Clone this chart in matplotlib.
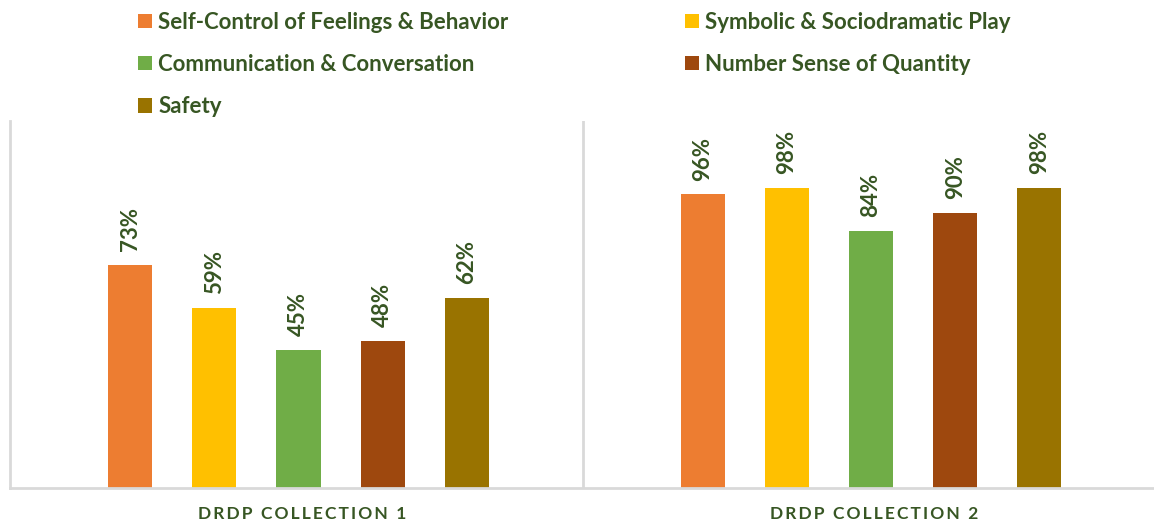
import numpy as np
import matplotlib.pyplot as plt
from matplotlib.patches import Patch

# données
groups = ["DRDP COLLECTION 1", "DRDP COLLECTION 2"]
series = ["Self-Control of Feelings & Behavior", "Symbolic & Sociodramatic Play",
          "Communication & Conversation", "Number Sense of Quantity", "Safety"]
values = [
    [0.73, 0.96],
    [0.59, 0.98],
    [0.45, 0.84],
    [0.48, 0.90],
    [0.62, 0.98],
]
colors = ["#ED7D31", "#FFC000", "#70AD47", "#9E480E", "#997300"]
txt = "#375623"
grid_c = "#D9D9D9"

plt.rcParams['font.family'] = ['Lato', 'DejaVu Sans']

fig = plt.figure(figsize=(11.54, 5.27), dpi=100)
ax = fig.add_axes([10/1154, 39/527, 1145/1154, 367/527])

x = np.arange(len(groups))
step = 0.147
width = 0.077
for k, (name, vals, col) in enumerate(zip(series, values, colors)):
    pos = x + (k - 2) * step + 0.004
    bars = ax.bar(pos, vals, width, color=col, label=name)
    for b, v in zip(bars, vals):
        ax.annotate(f"{v:.0%}", (b.get_x() + b.get_width()/2, v),
                    xytext=(0, 10), textcoords="offset points",
                    rotation=90, ha="center", va="bottom",
                    fontsize=16, fontweight="bold", color=txt)

ax.set_xlim(-0.5, 1.5)
ax.set_ylim(0, 1.2)
ax.set_yticks([])
ax.set_xticks(x + 0.01)
spaced = ["\u2009".join(g).replace("\u2009 \u2009", "\u2009\u2009\u2009\u2009") for g in groups]
ax.set_xticklabels(spaced, fontsize=12.5, fontweight="bold", color=txt)
ax.tick_params(axis="x", length=0, pad=13)
for s in ["top", "right"]:
    ax.spines[s].set_visible(False)
for s in ["left", "bottom"]:
    ax.spines[s].set_color(grid_c)
    ax.spines[s].set_linewidth(2)
ax.axvline(0.5, color=grid_c, lw=2)

# légende sur deux colonnes
handles = [Patch(facecolor=c) for c in colors]
leg_kw = dict(frameon=False, labelcolor=txt, handlelength=0.62,
              handleheight=0.62, handletextpad=0.3, labelspacing=0.95,
              borderaxespad=0, borderpad=0, prop={'weight': 'bold', 'size': 16})
l1 = fig.legend([handles[i] for i in (0, 2, 4)], [series[i] for i in (0, 2, 4)],
                loc="upper left", bbox_to_anchor=(138/1154, 1 - 12/527), **leg_kw)
l2 = fig.legend([handles[i] for i in (1, 3)], [series[i] for i in (1, 3)],
                loc="upper left", bbox_to_anchor=(685/1154, 1 - 12/527), **leg_kw)

fig.savefig("out.png", dpi=100)
